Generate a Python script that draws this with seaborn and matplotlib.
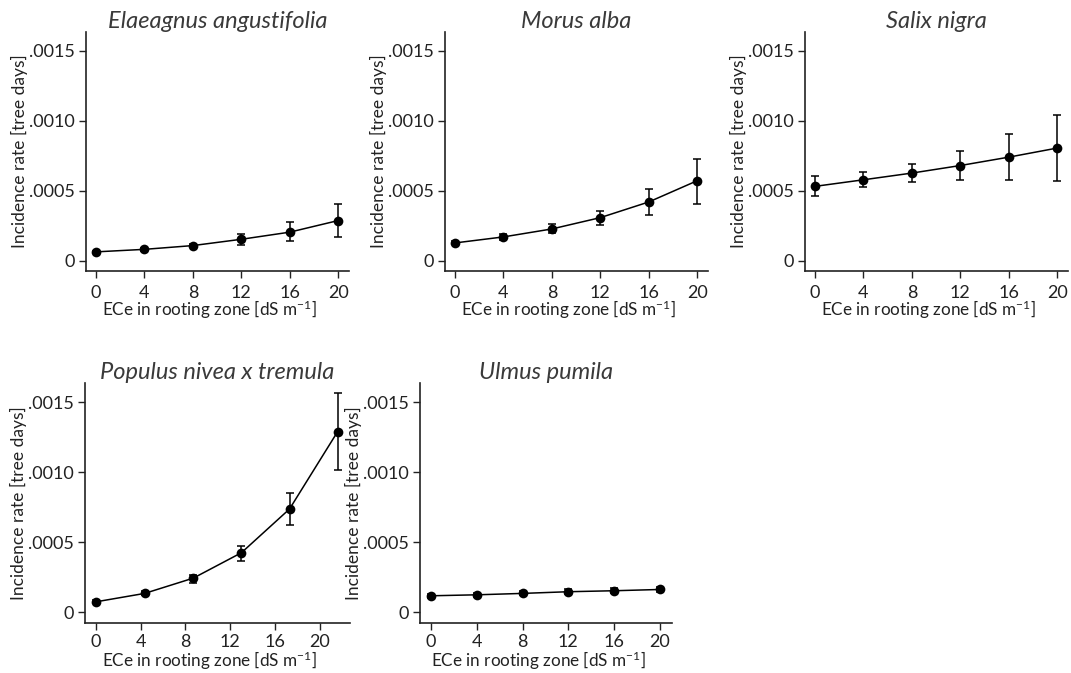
import matplotlib
matplotlib.use('Agg')
import matplotlib.pyplot as plt
import seaborn as sns
import pandas as pd

# ECe levels (dS m-1)
ece = [0, 4, 8, 12, 16, 20]
ece_populus = [0, 4.35, 8.7, 13.0, 17.3, 21.6]
xticks = [0, 4, 8, 12, 16, 20]
yticks = [0, 0.0005, 0.0010, 0.0015]
ytick_labels = ['0', '.0005', '.0010', '.0015']

species = ['Elaeagnus angustifolia', 'Morus alba', 'Salix nigra',
           'Populus nivea x tremula', 'Ulmus pumila']

# incidence rates per tree day: estimate, lower and upper CI
elaeagnus_rate = [0.62e-4, 0.80e-4, 1.07e-4, 1.52e-4, 2.03e-4, 2.86e-4]
elaeagnus_lo = [0.55e-4, 0.70e-4, 0.95e-4, 1.14e-4, 1.43e-4, 1.66e-4]
elaeagnus_hi = [0.70e-4, 0.92e-4, 1.20e-4, 1.88e-4, 2.74e-4, 4.02e-4]

morus_rate = [1.26e-4, 1.69e-4, 2.26e-4, 3.07e-4, 4.19e-4, 5.71e-4]
morus_lo = [1.15e-4, 1.45e-4, 1.98e-4, 2.57e-4, 3.29e-4, 4.07e-4]
morus_hi = [1.38e-4, 1.93e-4, 2.64e-4, 3.57e-4, 5.12e-4, 7.26e-4]

salix_rate = [5.31e-4, 5.78e-4, 6.26e-4, 6.80e-4, 7.40e-4, 8.05e-4]
salix_lo = [4.62e-4, 5.26e-4, 5.64e-4, 5.78e-4, 5.78e-4, 5.66e-4]
salix_hi = [6.02e-4, 6.33e-4, 6.93e-4, 7.86e-4, 9.05e-4, 10.40e-4]

populus_rate = [0.76e-4, 1.36e-4, 2.45e-4, 4.26e-4, 7.38e-4, 12.90e-4]
populus_lo = [0.66e-4, 1.22e-4, 2.12e-4, 3.66e-4, 6.24e-4, 10.16e-4]
populus_hi = [0.88e-4, 1.52e-4, 2.70e-4, 4.76e-4, 8.55e-4, 15.64e-4]

ulmus_rate = [1.19e-4, 1.26e-4, 1.36e-4, 1.48e-4, 1.55e-4, 1.64e-4]
ulmus_lo = [1.05e-4, 1.12e-4, 1.22e-4, 1.32e-4, 1.38e-4, 1.44e-4]
ulmus_hi = [1.33e-4, 1.40e-4, 1.50e-4, 1.64e-4, 1.72e-4, 1.84e-4]

panels = [
    (ece, elaeagnus_rate, elaeagnus_lo, elaeagnus_hi),
    (ece, morus_rate, morus_lo, morus_hi),
    (ece, salix_rate, salix_lo, salix_hi),
    (ece_populus, populus_rate, populus_lo, populus_hi),
    (ece, ulmus_rate, ulmus_lo, ulmus_hi),
]

sns.set_theme(style='ticks')
plt.rcParams['font.family'] = ['Lato', 'DejaVu Sans']
plt.rcParams['mathtext.fontset'] = 'custom'
plt.rcParams['mathtext.rm'] = 'Lato'
plt.rcParams['mathtext.it'] = 'Lato:italic'

W, H = 1071, 673
fig = plt.figure(figsize=(W / 100, H / 100), dpi=100)

# axes boxes in pixels: left, top, right, bottom
boxes = [(86, 32, 349, 271), (445, 32, 708, 271), (805, 32, 1068, 271),
         (85, 383, 350, 623), (420, 383, 672, 623)]
xlims = [(-0.83, 20.9), (-0.83, 20.9), (-0.83, 20.9), (-0.98, 22.7), (-0.96, 21.05)]
xtick_pads = [5, 5, 5, 3, 3]
xlabel_offsets = [39, 39, 39, 38, 38]

for i, (name, (x, y, lo, hi)) in enumerate(zip(species, panels)):
    l, t, r, b = boxes[i]
    ax = fig.add_axes([l / W, (H - b) / H, (r - l) / W, (b - t) / H])
    df = pd.DataFrame({'ece': x, 'rate': y})
    yerr = [[m - a for m, a in zip(y, lo)], [c - m for m, c in zip(y, hi)]]
    ax.errorbar(x, y, yerr=yerr, fmt='none', ecolor='black', elinewidth=1.1,
                capsize=3, capthick=1.1, zorder=2)
    sns.lineplot(data=df, x='ece', y='rate', ax=ax, color='black', lw=1.1,
                 marker='o', markersize=7, markeredgewidth=0, zorder=3)
    ax.set_xlim(*xlims[i])
    ax.set_ylim(-0.75e-4, 1.636e-3)
    ax.set_xticks(xticks)
    ax.set_yticks(yticks)
    ax.set_yticklabels(ytick_labels)
    ax.tick_params(axis='both', labelsize=13, length=5, width=1.0,
                   color='#222222', labelcolor='#222222')
    ax.tick_params(axis='x', pad=xtick_pads[i])
    ax.tick_params(axis='y', pad=3)
    sns.despine(ax=ax)
    for s in ['left', 'bottom']:
        ax.spines[s].set_linewidth(1.2)
        ax.spines[s].set_color('#222222')
    ax.set_title(name, style='italic', fontsize=17, color='#3a3a3a', pad=2)
    ax.set_ylabel('Incidence rate [tree days]', fontsize=12.5, color='#222222',
                  va='center')
    ax.yaxis.set_label_coords(-67 / (r - l), 0.5)
    ax.set_xlabel('ECe in rooting zone [dS m$^{\\mathregular{-1}}$]', fontsize=12.3,
                  color='#222222', va='center')
    ax.xaxis.set_label_coords(0.47, -xlabel_offsets[i] / (b - t))

plt.savefig('out.png', dpi=100)
